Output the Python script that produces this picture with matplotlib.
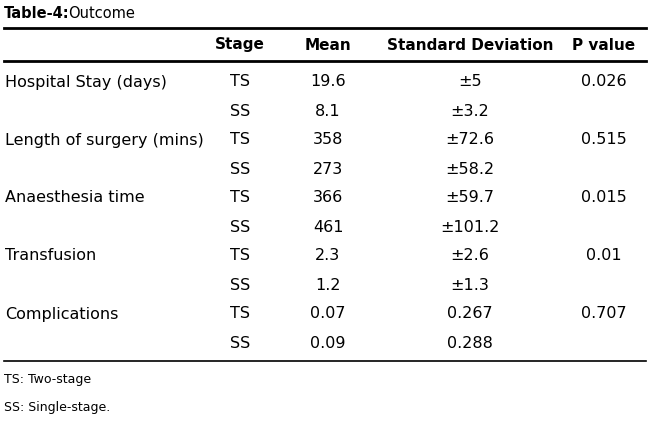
import matplotlib.pyplot as plt

labels = ["Hospital Stay (days)", "Length of surgery (mins)", "Anaesthesia time",
          "Transfusion", "Complications"]
stages = ["TS", "SS"]
means = [["19.6", "8.1"], ["358", "273"], ["366", "461"], ["2.3", "1.2"], ["0.07", "0.09"]]
sds = [["\u00b15", "\u00b13.2"], ["\u00b172.6", "\u00b158.2"], ["\u00b159.7", "\u00b1101.2"],
       ["\u00b12.6", "\u00b11.3"], ["0.267", "0.288"]]
pvals = ["0.026", "0.515", "0.015", "0.01", "0.707"]
headers = ["Stage", "Mean", "Standard Deviation", "P value"]

plt.rcParams['font.family'] = ['Liberation Sans Narrow', 'DejaVu Sans']

fig = plt.figure(figsize=(6.5, 4.24), dpi=100)
ax = fig.add_axes([0, 0, 1, 1])
ax.set_xlim(0, 650)
ax.set_ylim(424, 0)
ax.axis('off')

fs = 11.5
col_x = [240, 328, 470, 604]

ax.text(4, 13, "Table-4:", fontsize=10.5, fontweight='bold', va='center')
ax.text(68, 13, "Outcome", fontsize=10.5, va='center')
ax.plot([4, 646], [28, 28], color='black', lw=2)
for x, h in zip(col_x, headers):
    ax.text(x, 45, h, fontsize=11, fontweight='bold', ha='center', va='center')
ax.plot([4, 646], [61, 61], color='black', lw=2)

y = 82
for i, lab in enumerate(labels):
    ax.text(5, y, lab, fontsize=fs, va='center')
    ax.text(col_x[3], y, pvals[i], fontsize=fs, ha='center', va='center')
    for j in range(2):
        yy = y + j * 29
        ax.text(col_x[0], yy, stages[j], fontsize=fs, ha='center', va='center')
        ax.text(col_x[1], yy, means[i][j], fontsize=fs, ha='center', va='center')
        ax.text(col_x[2], yy, sds[i][j], fontsize=fs, ha='center', va='center')
    y += 58

ax.plot([4, 646], [361, 361], color='black', lw=1.2)
ax.text(4, 380, "TS: Two-stage", fontsize=9, va='center')
ax.text(4, 407, "SS: Single-stage.", fontsize=9, va='center')

fig.savefig("out.png", dpi=100)
